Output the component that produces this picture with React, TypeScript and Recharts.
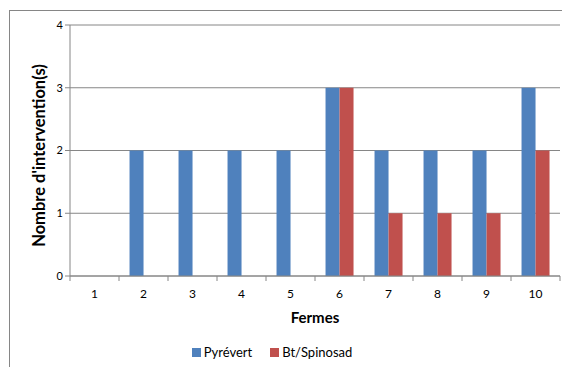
import { Bar, BarChart, CartesianGrid, XAxis, YAxis } from "recharts";

const fermes = ["1", "2", "3", "4", "5", "6", "7", "8", "9", "10"];
const pyrevert = [0, 2, 2, 2, 2, 3, 2, 2, 2, 3];
const btSpinosad = [0, 0, 0, 0, 0, 3, 1, 1, 1, 2];
const yTicks = [0, 1, 2, 3, 4];

const BLUE = "#4F81BD";
const RED = "#C0504D";
const AXIS = "#868686";
const FONT = "Lato, 'Open Sans', sans-serif";

const data = fermes.map((f, i) => ({
  ferme: f,
  pyrevert: pyrevert[i],
  bt: btSpinosad[i],
}));

const BAND = 49;

// category labels with Excel-style tick marks between categories
function FermeTick(props: any) {
  const { x, y, payload, index } = props;
  const last = index === fermes.length - 1;
  return (
    <g>
      <line x1={x - BAND / 2} x2={x - BAND / 2} y1={y - 8} y2={y - 3} stroke={AXIS} />
      {last && <line x1={x + BAND / 2} x2={x + BAND / 2} y1={y - 8} y2={y - 3} stroke={AXIS} />}
      <text x={x} y={y + 14} textAnchor="middle" fontSize={12} fill="#000" fontFamily={FONT}>
        {payload.value}
      </text>
    </g>
  );
}

export default function App() {
  return (
    <div
      style={{
        position: "absolute",
        left: 0,
        top: 0,
        width: 562,
        height: 367,
        background: "#fff",
        overflow: "hidden",
      }}
    >
      <div
        style={{
          position: "absolute",
          left: 9,
          top: 10,
          width: 560,
          height: 370,
          borderLeft: `1px solid ${AXIS}`,
          borderTop: `1px solid ${AXIS}`,
        }}
      />
      <BarChart
        width={562}
        height={367}
        data={data}
        margin={{ top: 25, right: 2, bottom: 41, left: 0 }}
        barCategoryGap="21.5%"
        barGap={0}
        style={{ position: "absolute", left: 0, top: 0 }}
      >
        <CartesianGrid vertical={false} stroke={AXIS} strokeWidth={1} />
        <XAxis
          dataKey="ferme"
          height={50}
          axisLine={{ stroke: AXIS }}
          tickLine={false}
          interval={0}
          tick={<FermeTick />}
          label={{
            value: "Fermes",
            position: "insideBottom",
            offset: 3,
            fontSize: 15,
            fontWeight: "bold",
            fill: "#000",
            fontFamily: FONT,
          }}
        />
        <YAxis
          domain={[0, 4]}
          ticks={yTicks}
          width={70}
          axisLine={{ stroke: AXIS }}
          tickLine={{ stroke: AXIS }}
          tickSize={5}
          tick={{ fontSize: 11, fill: "#000", fontFamily: FONT }}
          label={{
            value: "Nombre d'intervention(s)",
            angle: -90,
            position: "insideLeft",
            offset: 39,
            dy: 5,
            fontSize: 16.5,
            fontWeight: "bold",
            fill: "#000",
            fontFamily: FONT,
            style: { textAnchor: "middle" },
          }}
        />
        <Bar dataKey="pyrevert" name="Pyrévert" fill={BLUE} isAnimationActive={false} />
        <Bar dataKey="bt" name="Bt/Spinosad" fill={RED} isAnimationActive={false} />
      </BarChart>
      <div
        style={{
          position: "absolute",
          top: 344,
          left: 0,
          width: 544,
          display: "flex",
          justifyContent: "center",
          gap: 18,
          fontFamily: FONT,
          fontSize: 13,
          color: "#000",
        }}
      >
        {[
          { name: "Pyrévert", color: BLUE },
          { name: "Bt/Spinosad", color: RED },
        ].map((s) => (
          <div key={s.name} style={{ display: "flex", alignItems: "center", gap: 3 }}>
            <span style={{ width: 9, height: 9, background: s.color, display: "inline-block" }} />
            <span>{s.name}</span>
          </div>
        ))}
      </div>
    </div>
  );
}
